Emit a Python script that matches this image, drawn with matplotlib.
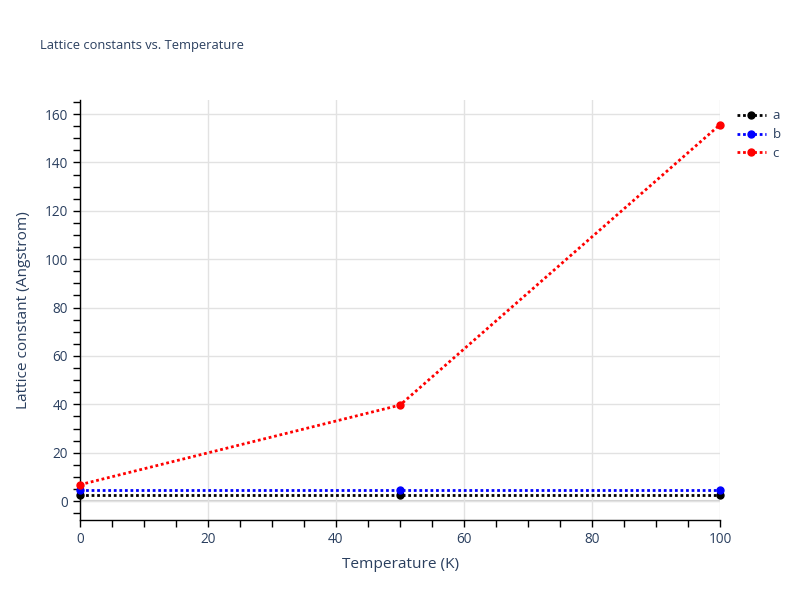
import matplotlib.pyplot as plt
from matplotlib.ticker import MultipleLocator

plt.rcParams['font.family'] = ['Open Sans', 'DejaVu Sans']

# data
temperature = [0, 50, 100]
lattice_a = [2.5, 2.5, 2.5]
lattice_b = [4.4, 4.4, 4.4]
lattice_c = [6.8, 39.7, 155.6]

series = [("a", lattice_a, "black"), ("b", lattice_b, "blue"), ("c", lattice_c, "red")]

text_color = "#2a3f5f"
grid_color = "#e2e2e2"

fig = plt.figure(figsize=(8, 6), dpi=100)
ax = fig.add_axes([80 / 800, 80 / 600, 640 / 800, 420 / 600])

for name, vals, col in series:
    ax.plot(temperature, vals, linestyle=(0, (1, 1)), color=col, lw=2,
            marker="o", markersize=5, label=name, clip_on=False, zorder=3)

ax.set_xlim(0, 100)
ax.set_ylim(-7.8, 165.8)

ax.xaxis.set_major_locator(MultipleLocator(20))
ax.xaxis.set_minor_locator(MultipleLocator(5))
ax.yaxis.set_major_locator(MultipleLocator(20))
ax.yaxis.set_minor_locator(MultipleLocator(5))

ax.grid(True, which="major", color=grid_color, lw=1, zorder=0)
ax.axhline(0, color="#d0d0d0", lw=1.5, zorder=1)

for side in ["top", "right"]:
    ax.spines[side].set_visible(False)
for side in ["left", "bottom"]:
    ax.spines[side].set_color("black")
    ax.spines[side].set_linewidth(1)

ax.tick_params(which="both", direction="out", length=5, width=1, color="black",
               labelsize=9.8, labelcolor=text_color)

ax.set_xlabel("Temperature (K)", fontsize=11.1, color=text_color, labelpad=7.5)
ax.set_ylabel("Lattice constant (Angstrom)", fontsize=11.1, color=text_color, labelpad=10)

fig.text(40 / 800, 1 - 46 / 600, "Lattice constants vs. Temperature",
         fontsize=9.3, color=text_color, va="center", ha="left")

leg = ax.legend(loc="upper left", bbox_to_anchor=(1.012, 1.0), frameon=False,
                fontsize=9.5, handlelength=2.2, handletextpad=0.5,
                labelspacing=0.45, borderaxespad=0.3)
for t in leg.get_texts():
    t.set_color(text_color)

fig.savefig("out.png", dpi=100)
